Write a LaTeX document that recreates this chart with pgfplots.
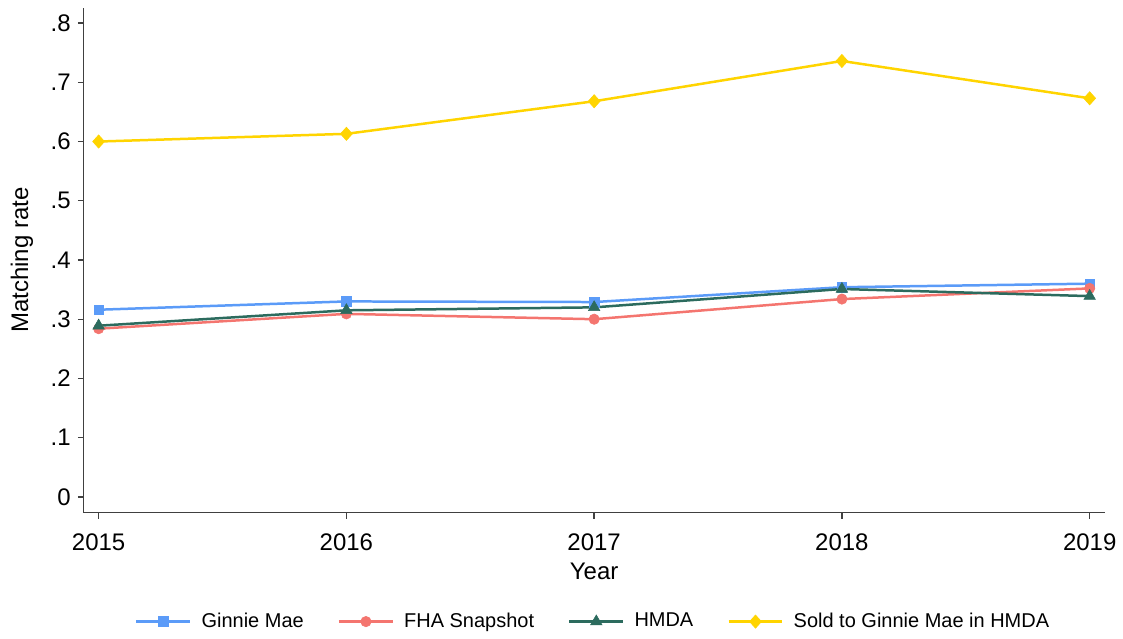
\documentclass[border=0pt]{standalone}
\usepackage{fontspec}
\setmainfont{Liberation Sans}
\usepackage{pgfplots}
\pgfplotsset{compat=1.18}

\definecolor{cGinnie}{HTML}{5B9BF8}
\definecolor{cFHA}{HTML}{F4756F}
\definecolor{cHMDA}{HTML}{2C6B5E}
\definecolor{cSold}{HTML}{FFD400}

\begin{document}
\begin{tikzpicture}
\begin{axis}[
  scale only axis,
  width=510.9pt, height=252.7pt,
  xmin=2014.94, xmax=2019.06,
  ymin=-0.0265, ymax=0.826,
  axis lines*=left,
  axis line style={line width=0.7pt, black!75},
  tick align=outside,
  major tick length=3pt,
  tick style={line width=0.7pt, black!75},
  xtick={2015,2016,2017,2018,2019},
  xticklabels={2015,2016,2017,2018,2019},
  ytick={0,0.1,0.2,0.3,0.4,0.5,0.6,0.7,0.8},
  yticklabels={0,.1,.2,.3,.4,.5,.6,.7,.8},
  /pgf/number format/assume math mode=true,
  tick label style={font=\fontsize{12}{14}\selectfont},
  xticklabel style={yshift=-4pt},
  xlabel={Year},
  ylabel={Matching rate},
  label style={font=\fontsize{12}{14}\selectfont},
  xlabel style={yshift=0.5pt},
  ylabel style={yshift=2pt},
  legend style={at={(0.5,-0.182)}, anchor=north, draw=none,
    legend columns=4, font=\fontsize{10}{12}\selectfont,
    /tikz/every odd column/.append style={column sep=3pt},
    /tikz/every even column/.append style={column sep=15pt}},
  legend image code/.code={%
    \draw[mark repeat=2,mark phase=2] plot coordinates {(0pt,0pt) (13.5pt,0pt) (27pt,0pt)};},
  every axis plot/.append style={line width=1.25pt},
]
\addplot[color=cGinnie, mark=square*, mark size=2.4pt, mark options={line width=0.3pt}] coordinates {
 (2015,0.316) (2016,0.330) (2017,0.329) (2018,0.354) (2019,0.360)};
\addlegendentry{Ginnie Mae}
\addplot[color=cFHA, mark=*, mark size=2.6pt, mark options={line width=0.3pt}] coordinates {
 (2015,0.284) (2016,0.309) (2017,0.300) (2018,0.334) (2019,0.352)};
\addlegendentry{FHA Snapshot}
\addplot[color=cHMDA, mark=triangle*, mark size=3.3pt, mark options={line width=0.3pt}] coordinates {
 (2015,0.289) (2016,0.315) (2017,0.320) (2018,0.351) (2019,0.339)};
\addlegendentry{HMDA}
\addplot[color=cSold, mark=diamond*, mark size=3.3pt, mark options={line width=0.3pt, xscale=1.2}] coordinates {
 (2015,0.600) (2016,0.613) (2017,0.668) (2018,0.736) (2019,0.673)};
\addlegendentry{Sold to Ginnie Mae in HMDA}
\end{axis}
\path (current axis.outer north) ++(0,3.5pt);
\path (current axis.outer west) ++(-2pt,0);
\end{tikzpicture}
\end{document}
